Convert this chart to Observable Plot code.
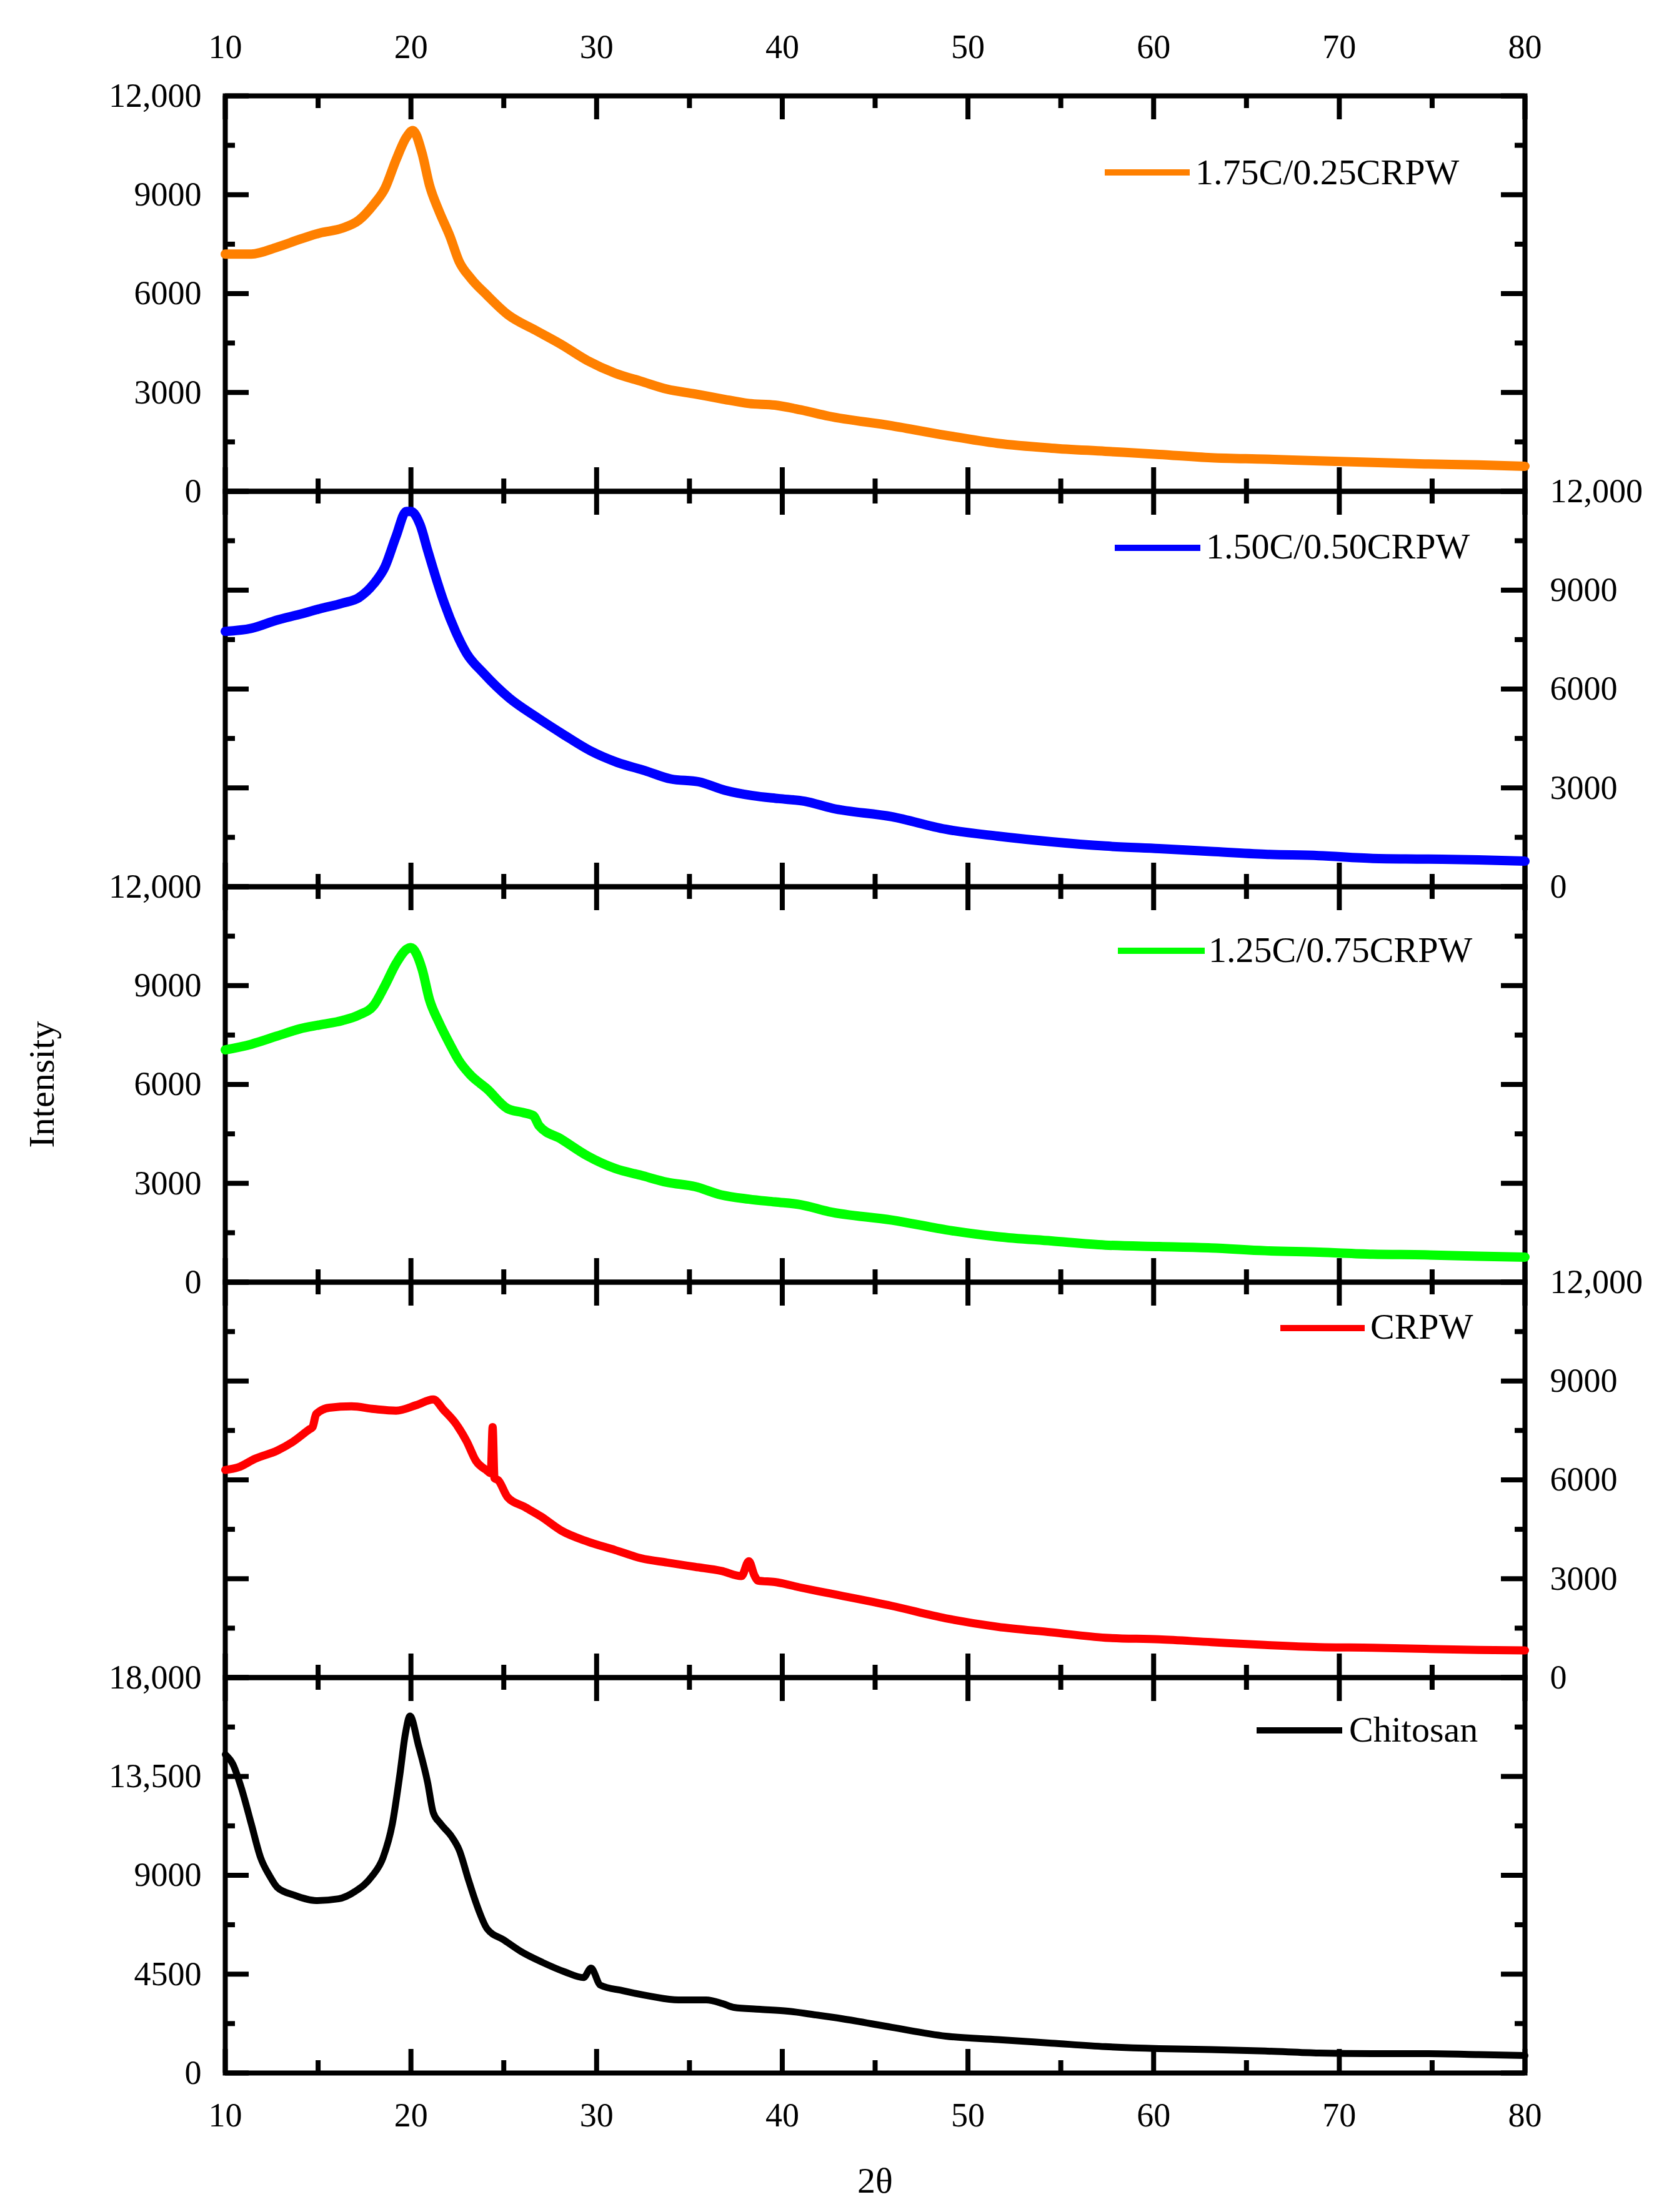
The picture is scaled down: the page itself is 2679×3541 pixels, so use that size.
<!DOCTYPE html>
<html>
<head>
<meta charset="utf-8">
<script src="https://cdn.jsdelivr.net/npm/d3@7"></script>
<script src="https://cdn.jsdelivr.net/npm/@observablehq/plot@0.6"></script>
<style>
  html, body { margin: 0; padding: 0; background: #ffffff; }
  #chart { position: relative; width: 2679px; height: 3541px; overflow: hidden; background: #ffffff; }
</style>
</head>
<body>
<div id="chart"></div>
<script>
// ---------------- DATA ----------------
const seriesNames = ["1.75C/0.25CRPW", "1.50C/0.50CRPW", "1.25C/0.75CRPW", "CRPW", "Chitosan"];

const thetaOrange = [10, 11.4, 12.8, 14.0, 15.1, 16.3, 17.2, 18.0, 18.6, 19.2, 19.75, 20.1, 20.6, 21.0, 21.5, 22.1, 22.6, 23.2, 24.1, 25.2, 26.7, 28.1, 29.5, 31.0, 32.4, 33.8, 35.3, 36.7, 38.2, 39.6, 41.0, 42.5, 45.9, 48.8, 51.6, 54.5, 57.4, 60.3, 63.1, 66.0, 68.9, 71.8, 74.6, 77.5, 80];
const intensityOrange = [7200, 7200, 7410, 7645, 7840, 7985, 8230, 8710, 9190, 10060, 10740, 10950, 10260, 9290, 8520, 7740, 6970, 6480, 5950, 5370, 4890, 4455, 3970, 3585, 3340, 3100, 2955, 2810, 2665, 2616, 2470, 2280, 1990, 1700, 1455, 1310, 1215, 1120, 1020, 975, 925, 875, 830, 800, 760];

const thetaBlue = [10, 11.4, 12.8, 14.0, 15.1, 16.3, 17.2, 18.0, 18.6, 19.2, 19.75, 20.0, 20.5, 20.9, 21.4, 21.8, 22.4, 23.0, 23.9, 25.3, 26.8, 28.2, 29.7, 31.1, 32.6, 34.0, 35.5, 36.9, 38.4, 39.8, 41.2, 42.7, 45.9, 48.8, 51.6, 54.5, 57.4, 60.3, 63.1, 66.0, 68.9, 71.8, 74.6, 77.5, 80];
const intensityBlue = [7750, 7840, 8095, 8265, 8435, 8605, 8775, 9195, 9705, 10635, 11390, 11390, 10975, 10210, 9280, 8600, 7750, 7080, 6485, 5725, 5135, 4625, 4115, 3775, 3525, 3270, 3185, 2930, 2765, 2675, 2595, 2380, 2125, 1745, 1535, 1365, 1235, 1155, 1070, 985, 945, 860, 840, 815, 775];

const thetaGreen = [10, 11.4, 12.8, 14.0, 15.1, 16.3, 17.2, 18.0, 18.6, 19.2, 19.75, 20.0, 20.6, 21.0, 21.5, 22.1, 22.6, 23.2, 24.1, 25.2, 26.0, 26.6, 26.9, 28.1, 29.5, 31.0, 32.4, 33.8, 35.3, 36.7, 38.2, 39.6, 41.0, 42.5, 45.9, 48.8, 51.6, 54.5, 57.4, 60.3, 63.1, 66.0, 68.9, 71.8, 74.6, 77.5, 80];
const intensityGreen = [7050, 7220, 7470, 7685, 7810, 7940, 8110, 8400, 9000, 9670, 10095, 10150, 9500, 8570, 7895, 7220, 6710, 6290, 5865, 5270, 5150, 5050, 4750, 4340, 3835, 3450, 3240, 3030, 2900, 2650, 2520, 2435, 2350, 2140, 1885, 1590, 1380, 1250, 1125, 1080, 1040, 955, 910, 850, 830, 785, 760];

const thetaRed = [10, 10.7, 11.6, 12.8, 13.6, 14.5, 14.7, 14.9, 15.6, 16.8, 18.0, 19.2, 20.3, 21.2, 21.8, 22.4, 23.0, 23.5, 24.1, 24.3, 24.4, 24.5, 24.7, 25.2, 26.1, 27.0, 28.1, 29.5, 31.0, 32.4, 33.8, 35.3, 36.7, 37.8, 38.2, 38.5, 38.7, 39.6, 41.0, 42.5, 45.9, 48.8, 51.6, 54.5, 57.4, 60.3, 63.1, 66.0, 68.9, 71.8, 74.6, 77.5, 80];
const intensityRed = [6300, 6380, 6640, 6890, 7140, 7520, 7600, 8000, 8190, 8230, 8150, 8100, 8270, 8440, 8100, 7720, 7170, 6580, 6280, 6200, 7600, 6050, 5990, 5480, 5185, 4890, 4460, 4130, 3870, 3620, 3490, 3360, 3240, 3080, 3530, 3100, 2940, 2900, 2730, 2560, 2175, 1800, 1540, 1375, 1210, 1160, 1075, 990, 925, 905, 870, 840, 825];

const thetaBlack = [10, 10.4, 10.9, 11.4, 11.9, 12.4, 12.8, 13.7, 14.9, 16.1, 17.0, 17.9, 18.5, 19.0, 19.4, 19.7, 19.95, 20.4, 20.9, 21.2, 21.6, 22.2, 22.6, 23.1, 23.5, 24.1, 25.0, 25.9, 27.1, 28.3, 29.3, 29.7, 30.2, 31.4, 32.9, 34.4, 35.9, 36.8, 37.4, 38.8, 40.3, 41.8, 43.2, 45.9, 48.8, 51.6, 54.5, 57.4, 60.3, 63.1, 66.0, 68.9, 71.8, 74.6, 77.5, 80];
const intensityBlack = [14500, 14075, 12880, 11345, 9810, 8960, 8450, 8100, 7850, 7930, 8270, 8955, 9810, 11345, 13560, 15440, 16250, 14930, 13220, 11860, 11345, 10750, 10150, 8790, 7760, 6570, 6060, 5545, 5030, 4600, 4345, 4775, 4000, 3750, 3495, 3325, 3325, 3155, 2985, 2900, 2815, 2645, 2475, 2080, 1680, 1520, 1360, 1200, 1110, 1065, 1000, 910, 880, 880, 840, 795];

const xMajorTicks = [10, 20, 30, 40, 50, 60, 70, 80];
const xMinorTicks = [15, 25, 35, 45, 55, 65, 75];
const yMajorTicks12 = [0, 3000, 6000, 9000, 12000];
const yMinorTicks12 = [1500, 4500, 7500, 10500];
const yMajorTicks18 = [0, 4500, 9000, 13500, 18000];
const yMinorTicks18 = [2250, 6750, 11250, 15750];
const xDomain = [10, 80];
const yMax12 = 12000;
const yMax18 = 18000;
const xTitle = "2θ";
const yTitle = "Intensity";

// ---------------- STYLE / LAYOUT ----------------
const seriesColors = ["#ff8000", "#0000ff", "#00ff00", "#ff0000", "#000000"];
const lineWidths = [15, 15, 15, 13, 11];
const W = 2679, H = 3541;
const ML = 360, MR = 239;
const TOP0 = 153, PH = 633;
const PW = W - ML - MR;
const FONT = "'Liberation Serif', 'Times New Roman', Times, serif";
const TICKFS = 54, LABELFS = 58;

const panels = [
  {theta: thetaOrange, intensity: intensityOrange, yMax: yMax12, major: yMajorTicks12, minor: yMinorTicks12, ySide: "left",  xSide: "top"},
  {theta: thetaBlue,   intensity: intensityBlue,   yMax: yMax12, major: yMajorTicks12, minor: yMinorTicks12, ySide: "right", xSide: null},
  {theta: thetaGreen,  intensity: intensityGreen,  yMax: yMax12, major: yMajorTicks12, minor: yMinorTicks12, ySide: "left",  xSide: null},
  {theta: thetaRed,    intensity: intensityRed,    yMax: yMax12, major: yMajorTicks12, minor: yMinorTicks12, ySide: "right", xSide: null},
  {theta: thetaBlack,  intensity: intensityBlack,  yMax: yMax18, major: yMajorTicks18, minor: yMinorTicks18, ySide: "left",  xSide: "bottom"}
];

// legend placement (pixel offsets in the page)
const legendPos = [
  {x1: 1768, x2: 1904, y: 276,  tx: 1913, tb: 295},
  {x1: 1784, x2: 1921, y: 877,  tx: 1930, tb: 894},
  {x1: 1789, x2: 1928, y: 1522, tx: 1934, tb: 1540},
  {x1: 2049, x2: 2184, y: 2126, tx: 2193, tb: 2143},
  {x1: 2011, x2: 2148, y: 2770, tx: 2159, tb: 2788}
];

const fmt = d => d >= 10000 ? d3.format(",")(d) : String(d);
const chart = document.getElementById("chart");

panels.forEach((p, i) => {
  const top = TOP0 + i * PH;
  const mt = i === 0 ? TOP0 : 70;
  const mb = i === panels.length - 1 ? H - (TOP0 + panels.length * PH) : 70;
  const data = p.theta.map((t, j) => ({theta: t, intensity: p.intensity[j], series: seriesNames[i]}));
  const marks = [
    Plot.frame({stroke: "black", strokeWidth: 8}),
    Plot.tickX(xMajorTicks, {x: d => d, insetTop: PH - 38, strokeWidth: 8, stroke: "black"}),
    Plot.tickX(xMajorTicks, {x: d => d, insetBottom: PH - 38, strokeWidth: 8, stroke: "black"}),
    Plot.tickX(xMinorTicks, {x: d => d, insetTop: PH - 20, strokeWidth: 8, stroke: "black"}),
    Plot.tickX(xMinorTicks, {x: d => d, insetBottom: PH - 20, strokeWidth: 8, stroke: "black"}),
    Plot.tickY(p.major, {y: d => d, insetRight: PW - 38, strokeWidth: 8, stroke: "black"}),
    Plot.tickY(p.major, {y: d => d, insetLeft: PW - 38, strokeWidth: 8, stroke: "black"}),
    Plot.tickY(p.minor, {y: d => d, insetRight: PW - 16, strokeWidth: 8, stroke: "black"}),
    Plot.tickY(p.minor, {y: d => d, insetLeft: PW - 16, strokeWidth: 8, stroke: "black"}),
    Plot.axisY(p.major, {anchor: p.ySide, tickSize: 0, tickPadding: p.ySide === "left" ? 38 : 40,
      tickFormat: fmt, label: null, fontSize: TICKFS, fontFamily: FONT})
  ];
  if (p.xSide === "top") {
    marks.push(Plot.axisX(xMajorTicks, {anchor: "top", tickSize: 0, tickPadding: 61,
      tickFormat: d => String(d), label: null, fontSize: TICKFS, fontFamily: FONT}));
  }
  if (p.xSide === "bottom") {
    marks.push(Plot.axisX(xMajorTicks, {anchor: "bottom", tickSize: 0, tickPadding: 47,
      tickFormat: d => String(d), label: null, fontSize: TICKFS, fontFamily: FONT}));
    marks.push(Plot.text([xTitle], {text: d => d, frameAnchor: "bottom", textAnchor: "middle",
      lineAnchor: "middle", dy: 173, fontSize: LABELFS, fontFamily: FONT, fill: "black"}));
  }
  if (i === 2) {
    marks.push(Plot.text([yTitle], {text: d => d, frameAnchor: "left", textAnchor: "middle",
      lineAnchor: "middle", rotate: -90, dx: -293, fontSize: LABELFS, fontFamily: FONT, fill: "black"}));
  }
  marks.push(Plot.line(data, {x: "theta", y: "intensity", stroke: seriesColors[i], strokeWidth: lineWidths[i],
    curve: "monotone-x", strokeLinejoin: "round"}));

  const svg = Plot.plot({
    width: W,
    height: mt + PH + mb,
    marginTop: mt, marginBottom: mb, marginLeft: ML, marginRight: MR,
    x: {domain: xDomain, axis: null},
    y: {domain: [0, p.yMax], axis: null},
    style: `position:absolute;left:0px;top:${top - mt}px;overflow:visible;background:transparent;font-family:${FONT};font-size:${TICKFS}px;color:black;max-width:none;`,
    marks
  });
  chart.appendChild(svg);
});

// ---------------- LEGEND (overlay) ----------------
const leg = d3.create("svg")
  .attr("width", W).attr("height", H)
  .attr("style", "position:absolute;left:0;top:0;pointer-events:none;overflow:visible;");
seriesNames.forEach((name, i) => {
  const L = legendPos[i];
  const g = leg.append("g").attr("class", "legend-item");
  g.append("line").attr("x1", L.x1).attr("x2", L.x2).attr("y1", L.y).attr("y2", L.y)
    .attr("stroke", seriesColors[i]).attr("stroke-width", 10);
  g.append("text").attr("x", L.tx).attr("y", L.tb).attr("font-family", FONT)
    .attr("font-size", LABELFS).attr("fill", "black").text(name);
});
chart.appendChild(leg.node());
</script>
</body>
</html>
